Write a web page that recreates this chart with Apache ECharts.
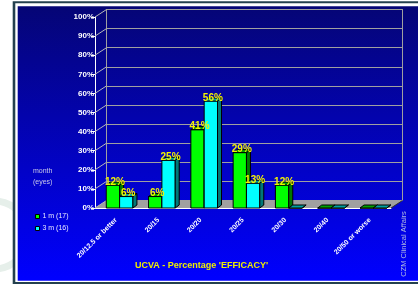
<!DOCTYPE html>
<html>
<head>
<meta charset="utf-8">
<script src="https://cdn.jsdelivr.net/npm/echarts@6/dist/echarts.min.js"></script>
<style>
  html, body { margin: 0; padding: 0; background: #fff; }
  #chart { width: 418px; height: 288px; }
</style>
</head>
<body>
<div id="chart"></div>
<script>
const categories = ['20/12.5 or better', '20/15', '20/20', '20/25', '20/30', '20/40', '20/50 or worse'];
const oneMonth = [12, 6, 41, 29, 12, 0, 0];
const threeMonth = [6, 25, 56, 13, 0, 0, 0];
const yTicks = [0, 10, 20, 30, 40, 50, 60, 70, 80, 90, 100];
const seriesNames = ['1 m (17)', '3 m (16)'];

const FONT = '"Liberation Sans", Arial, sans-serif';
const DX = 11.5, DY = -7.5;   // depth of floor / back wall
const BDX = 4, BDY = -3;      // depth of one bar

// face colours: front, side, top
const greenFaces = ['#00ff00', '#007800', '#00a000'];
const cyanFaces = ['#00ffff', '#007878', '#00a0a0'];

function barBox(api, si) {
  const idx = api.value(0), v = api.value(1);
  const band = api.size([1, 0])[0];
  const base = api.coord([idx, 0]);
  const top = api.coord([idx, v])[1];
  const w = band * 0.315;
  const x0 = base[0] - band / 2 + band * 0.267 + si * w;
  return { x0: x0, x1: x0 + w, y0: base[1], top: top, v: v };
}

function barRender(si, faces) {
  return function (params, api) {
    const b = barBox(api, si);
    const edge = { stroke: '#000', lineWidth: 1 };
    return {
      type: 'group',
      children: [
        { type: 'rect', shape: { x: b.x0, y: b.top, width: b.x1 - b.x0, height: b.y0 - b.top },
          style: Object.assign({ fill: faces[0] }, edge) },
        { type: 'polygon', shape: { points: [[b.x1, b.top], [b.x1 + BDX, b.top + BDY], [b.x1 + BDX, b.y0 + BDY], [b.x1, b.y0]] },
          style: Object.assign({ fill: faces[1] }, edge) },
        { type: 'polygon', shape: { points: [[b.x0, b.top], [b.x1, b.top], [b.x1 + BDX, b.top + BDY], [b.x0 + BDX, b.top + BDY]] },
          style: Object.assign({ fill: faces[2] }, edge) }
      ]
    };
  };
}

function labelRender(si) {
  return function (params, api) {
    const b = barBox(api, si);
    if (!b.v) return null;
    return {
      type: 'text',
      x: (b.x0 + b.x1 + BDX) / 2, y: b.top - 3,
      style: {
        text: b.v + '%', fill: '#f4f400', font: 'bold 10px ' + FONT,
        align: 'center', verticalAlign: 'middle'
      }
    };
  };
}

const toData = arr => arr.map((v, i) => [i, v]);

const chart = echarts.init(document.getElementById('chart'));

chart.setOption({
  animation: false,
  grid: [
    { left: 95, top: 17, width: 296, height: 191 },
    { left: 106.5, top: 9.5, width: 296, height: 191 }
  ],
  legend: {
    data: seriesNames,
    orient: 'vertical', left: 30, top: 208,
    itemWidth: 4, itemHeight: 4, itemGap: 5,
    icon: 'rect',
    itemStyle: { borderColor: '#000', borderWidth: 1 },
    textStyle: { color: '#e8e8ff', fontSize: 7, fontFamily: FONT, padding: [0, 0, 0, -2] }
  },
  title: {
    text: 'month\n(eyes)', left: 28, top: 160,
    textStyle: { color: '#c8c8e8', fontSize: 7, fontWeight: 'normal', fontFamily: FONT, lineHeight: 11.5 }
  },
  xAxis: [
    {
      gridIndex: 0, type: 'category', data: categories,
      axisLine: { lineStyle: { color: '#fff' } },
      axisTick: { length: 4, lineStyle: { color: '#fff' } },
      axisLabel: { rotate: 45, interval: 0, color: '#fff', fontSize: 7, fontWeight: 'bold', fontFamily: FONT, margin: 11 }
    },
    { gridIndex: 1, type: 'category', data: categories, show: false }
  ],
  yAxis: [
    {
      gridIndex: 0, type: 'value', min: yTicks[0], max: yTicks[yTicks.length - 1], interval: 10,
      axisLine: { show: true, lineStyle: { color: '#fff' } },
      axisTick: { show: true, length: 4, lineStyle: { color: '#fff' } },
      axisLabel: { formatter: '{value}%', color: '#fff', fontSize: 8, fontWeight: 'bold', fontFamily: FONT, margin: 1 },
      splitLine: { show: false }
    },
    {
      gridIndex: 1, type: 'value', min: yTicks[0], max: yTicks[yTicks.length - 1], interval: 10,
      axisLine: { show: true, lineStyle: { color: '#a0a0a0' } },
      axisTick: { show: false }, axisLabel: { show: false },
      splitLine: { lineStyle: { color: '#a0a0a0' } }
    },
    {
      gridIndex: 1, type: 'value', position: 'right', min: yTicks[0], max: yTicks[yTicks.length - 1], interval: 10,
      axisLine: { show: true, lineStyle: { color: '#a0a0a0' } },
      axisTick: { show: false }, axisLabel: { show: false }, splitLine: { show: false }
    }
  ],
  series: [
    {
      // floor
      type: 'custom', name: 'floor', xAxisIndex: 0, yAxisIndex: 0, z: 1, clip: false, silent: true,
      data: [[0, 0]],
      renderItem: function (params, api) {
        const r = params.coordSys;
        const y = r.y + r.height;
        return {
          type: 'group',
          children: [
            { type: 'polygon', shape: { points: [[r.x, y], [r.x + r.width, y], [r.x + r.width + DX, y + DY], [r.x + DX, y + DY]] },
              style: { fill: '#a0a0a0' } },
            { type: 'line', shape: { x1: r.x + r.width, y1: y, x2: r.x + r.width + DX, y2: y + DY },
              style: { stroke: '#303030', lineWidth: 1 } }
          ]
        };
      }
    },
    {
      // connectors from front ticks to the back wall
      type: 'custom', name: 'depth', xAxisIndex: 0, yAxisIndex: 0, z: 1, clip: false, silent: true,
      data: yTicks.map(v => [0, v]),
      renderItem: function (params, api) {
        const x = params.coordSys.x;
        const y = api.coord([0, api.value(1)])[1];
        return { type: 'line', shape: { x1: x, y1: y, x2: x + DX, y2: y + DY },
          style: { stroke: '#b8b8b8', lineWidth: 1 } };
      }
    },
    {
      type: 'custom', name: seriesNames[0], xAxisIndex: 0, yAxisIndex: 0, z: 3, clip: false,
      itemStyle: { color: greenFaces[0] },
      data: toData(oneMonth), renderItem: barRender(0, greenFaces)
    },
    {
      type: 'custom', name: seriesNames[1], xAxisIndex: 0, yAxisIndex: 0, z: 3, clip: false,
      itemStyle: { color: cyanFaces[0] },
      data: toData(threeMonth), renderItem: barRender(1, cyanFaces)
    },
    {
      type: 'custom', name: 'lab1', xAxisIndex: 0, yAxisIndex: 0, z: 5, clip: false, silent: true,
      data: toData(oneMonth), renderItem: labelRender(0)
    },
    {
      type: 'custom', name: 'lab3', xAxisIndex: 0, yAxisIndex: 0, z: 5, clip: false, silent: true,
      data: toData(threeMonth), renderItem: labelRender(1)
    }
  ],
  graphic: [
    { type: 'circle', shape: { cx: -6, cy: 235, r: 34 }, style: { fill: 'none', stroke: '#e6efea', lineWidth: 7 }, z: -30, silent: true },
    { type: 'rect', shape: { x: 12.7, y: 1.3, width: 420, height: 282.7 }, style: { fill: '#24404e' }, z: -20, silent: true },
    { type: 'rect', shape: { x: 15.3, y: 3.3, width: 420, height: 278.7 }, style: { fill: '#ffffff' }, z: -19, silent: true },
    {
      type: 'rect', shape: { x: 17.7, y: 6.3, width: 420, height: 274.4 }, z: -18, silent: true,
      style: { fill: new echarts.graphic.LinearGradient(0, 0, 0, 1, [
        { offset: 0, color: '#050575' }, { offset: 1, color: '#0000ff' }]) }
    },
    {
      type: 'text', x: 201.5, y: 266, z: 10, silent: true,
      style: { text: "UCVA - Percentage 'EFFICACY'", fill: '#eeee00', font: 'bold 9px ' + FONT, align: 'center', verticalAlign: 'middle' }
    },
    {
      type: 'text', x: 404, y: 244, rotation: Math.PI / 2, z: 10, silent: true,
      style: { text: 'CZM Clinical Affairs', fill: '#b0b8e0', font: '7.5px ' + FONT, align: 'center', verticalAlign: 'middle' }
    }
  ]
});
</script>
</body>
</html>
